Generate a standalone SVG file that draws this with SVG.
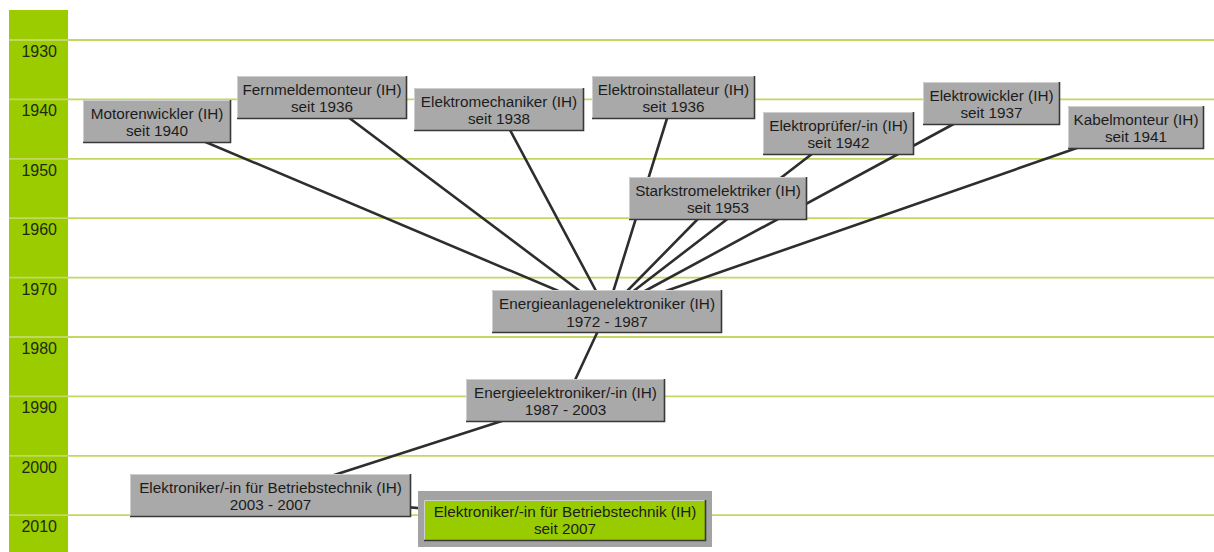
<svg xmlns="http://www.w3.org/2000/svg" width="1214" height="552" viewBox="0 0 1214 552">
<style>
.bg{fill:#ffffff}
.bar{fill:#9acc00}
.grid{stroke:#c2d862;stroke-width:1.8;fill:none}
.yr{font-family:"Liberation Sans",Arial,sans-serif;font-size:16px;fill:#1e2a10;text-anchor:end}
.edge{stroke:#2e2e2e;stroke-width:2.6;fill:none;stroke-linecap:round}
.box{fill:#a9a9a9}
.gbox{fill:#99cc00}
.frame{fill:#a3a3a3}
.hi{stroke:#cfcfcf;stroke-width:1;fill:none}
.sh{stroke:#383838;stroke-width:1.6;fill:none}
.lbl{font-family:"Liberation Sans",Arial,sans-serif;font-size:15.3px;fill:#1c1c1c;text-anchor:middle}
</style>
<rect class="bg" x="0" y="0" width="1214" height="552"/>
<g id="timeline">
<rect class="bar" x="9" y="10" width="59" height="542"/>
<g class="gridlines">
<line class="grid" x1="9" y1="40" x2="1214" y2="40"/>
<line class="grid" x1="9" y1="99.4" x2="1214" y2="99.4"/>
<line class="grid" x1="9" y1="158.8" x2="1214" y2="158.8"/>
<line class="grid" x1="9" y1="218.2" x2="1214" y2="218.2"/>
<line class="grid" x1="9" y1="277.6" x2="1214" y2="277.6"/>
<line class="grid" x1="9" y1="337" x2="1214" y2="337"/>
<line class="grid" x1="9" y1="396.4" x2="1214" y2="396.4"/>
<line class="grid" x1="9" y1="455.8" x2="1214" y2="455.8"/>
<line class="grid" x1="9" y1="515.2" x2="1214" y2="515.2"/>
</g>
<text class="yr" x="57" y="57">1930</text>
<text class="yr" x="57" y="116.4">1940</text>
<text class="yr" x="57" y="175.8">1950</text>
<text class="yr" x="57" y="235.2">1960</text>
<text class="yr" x="57" y="294.6">1970</text>
<text class="yr" x="57" y="354">1980</text>
<text class="yr" x="57" y="413.4">1990</text>
<text class="yr" x="57" y="472.8">2000</text>
<text class="yr" x="57" y="532.2">2010</text>
</g>
<g id="connectors">
<line class="edge" x1="607" y1="311.5" x2="157" y2="121.5"/>
<line class="edge" x1="607" y1="311.5" x2="322" y2="97.5"/>
<line class="edge" x1="607" y1="311.5" x2="499" y2="109.5"/>
<line class="edge" x1="607" y1="311.5" x2="673.5" y2="97.5"/>
<line class="edge" x1="607" y1="311.5" x2="718" y2="198.5"/>
<line class="edge" x1="607" y1="311.5" x2="838.5" y2="133.5"/>
<line class="edge" x1="607" y1="311.5" x2="991.5" y2="103.5"/>
<line class="edge" x1="607" y1="311.5" x2="1136" y2="127.5"/>
<line class="edge" x1="607" y1="311.5" x2="565.5" y2="400.5"/>
<line class="edge" x1="565.5" y1="400.5" x2="270.5" y2="495.5"/>
<line class="edge" x1="270.5" y1="495.5" x2="565" y2="520.5"/>
</g>
<g id="n-motorenwickler">
<rect class="box" x="83" y="100" width="148" height="43"/>
<path class="hi" d="M83.5,143V100.5H231"/><path class="sh" d="M230.5,100V142.5H83"/>
<text class="lbl"><tspan x="157" y="118.5">Motorenwickler (IH)</tspan><tspan x="157" y="136">seit 1940</tspan></text>
</g>
<g id="n-fernmeldemonteur">
<rect class="box" x="237" y="76" width="170" height="43"/>
<path class="hi" d="M237.5,119V76.5H407"/><path class="sh" d="M406.5,76V118.5H237"/>
<text class="lbl"><tspan x="322" y="94.5">Fernmeldemonteur (IH)</tspan><tspan x="322" y="112">seit 1936</tspan></text>
</g>
<g id="n-elektromechaniker">
<rect class="box" x="414" y="88" width="170" height="43"/>
<path class="hi" d="M414.5,131V88.5H584"/><path class="sh" d="M583.5,88V130.5H414"/>
<text class="lbl"><tspan x="499" y="106.5">Elektromechaniker (IH)</tspan><tspan x="499" y="124">seit 1938</tspan></text>
</g>
<g id="n-elektroinstallateur">
<rect class="box" x="592" y="76" width="163" height="43"/>
<path class="hi" d="M592.5,119V76.5H755"/><path class="sh" d="M754.5,76V118.5H592"/>
<text class="lbl"><tspan x="673.5" y="94.5">Elektroinstallateur (IH)</tspan><tspan x="673.5" y="112">seit 1936</tspan></text>
</g>
<g id="n-elektropruefer">
<rect class="box" x="763" y="112" width="151" height="43"/>
<path class="hi" d="M763.5,155V112.5H914"/><path class="sh" d="M913.5,112V154.5H763"/>
<text class="lbl"><tspan x="838.5" y="130.5">Elektroprüfer/-in (IH)</tspan><tspan x="838.5" y="148">seit 1942</tspan></text>
</g>
<g id="n-elektrowickler">
<rect class="box" x="923" y="82" width="137" height="43"/>
<path class="hi" d="M923.5,125V82.5H1060"/><path class="sh" d="M1059.5,82V124.5H923"/>
<text class="lbl"><tspan x="991.5" y="100.5">Elektrowickler (IH)</tspan><tspan x="991.5" y="118">seit 1937</tspan></text>
</g>
<g id="n-kabelmonteur">
<rect class="box" x="1068" y="106" width="136" height="43"/>
<path class="hi" d="M1068.5,149V106.5H1204"/><path class="sh" d="M1203.5,106V148.5H1068"/>
<text class="lbl"><tspan x="1136" y="124.5">Kabelmonteur (IH)</tspan><tspan x="1136" y="142">seit 1941</tspan></text>
</g>
<g id="n-starkstromelektriker">
<rect class="box" x="629" y="177" width="178" height="43"/>
<path class="hi" d="M629.5,220V177.5H807"/><path class="sh" d="M806.5,177V219.5H629"/>
<text class="lbl"><tspan x="718" y="195.5">Starkstromelektriker (IH)</tspan><tspan x="718" y="213">seit 1953</tspan></text>
</g>
<g id="n-energieanlagenelektroniker">
<rect class="box" x="492" y="290" width="230" height="43"/>
<path class="hi" d="M492.5,333V290.5H722"/><path class="sh" d="M721.5,290V332.5H492"/>
<text class="lbl"><tspan x="607" y="309">Energieanlagenelektroniker (IH)</tspan><tspan x="607" y="326.5">1972 - 1987</tspan></text>
</g>
<g id="n-energieelektroniker">
<rect class="box" x="466" y="379" width="199" height="43"/>
<path class="hi" d="M466.5,422V379.5H665"/><path class="sh" d="M664.5,379V421.5H466"/>
<text class="lbl"><tspan x="565.5" y="397.5">Energieelektroniker/-in (IH)</tspan><tspan x="565.5" y="415">1987 - 2003</tspan></text>
</g>
<g id="n-betriebstechnik-2003">
<rect class="box" x="130" y="474" width="281" height="43"/>
<path class="hi" d="M130.5,517V474.5H411"/><path class="sh" d="M410.5,474V516.5H130"/>
<text class="lbl"><tspan x="270.5" y="492.5">Elektroniker/-in für Betriebstechnik (IH)</tspan><tspan x="270.5" y="510">2003 - 2007</tspan></text>
</g>
<g id="n-betriebstechnik-2007">
<rect class="frame" x="418" y="491" width="294" height="56"/>
<rect class="gbox" x="424" y="500" width="282" height="41"/>
<path class="hi" d="M424.5,541V500.5H706"/><path class="sh" d="M705.5,500V540.5H424"/>
<text class="lbl"><tspan x="565" y="516.5">Elektroniker/-in für Betriebstechnik (IH)</tspan><tspan x="565" y="534">seit 2007</tspan></text>
</g>
</svg>
